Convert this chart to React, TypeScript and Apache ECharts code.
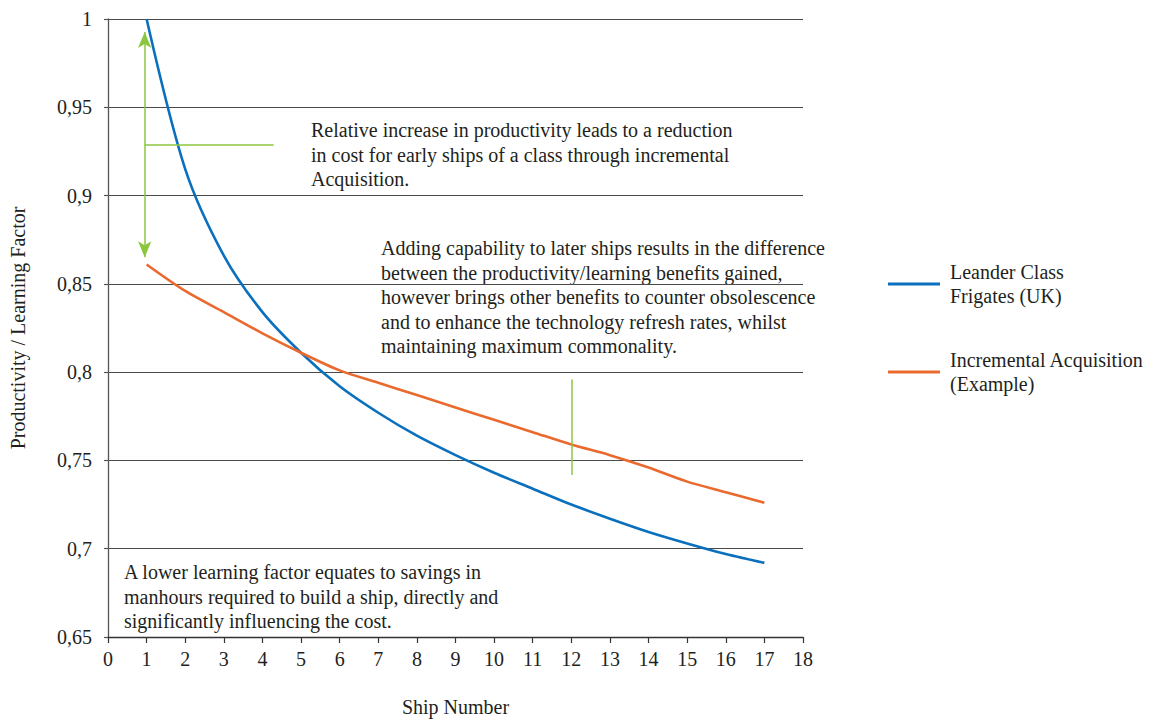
import React, { useEffect, useRef } from "react";
import * as echarts from "echarts";

const shipNumbers = [1, 2, 3, 4, 5, 6, 7, 8, 9, 10, 11, 12, 13, 14, 15, 16, 17];
const leanderValues = [1.0, 0.915, 0.866, 0.834, 0.811, 0.792, 0.777, 0.764, 0.753, 0.743, 0.734, 0.725, 0.717, 0.7095, 0.703, 0.697, 0.692];
const incrementalValues = [0.861, 0.846, 0.834, 0.822, 0.811, 0.801, 0.794, 0.787, 0.78, 0.773, 0.766, 0.759, 0.753, 0.746, 0.738, 0.732, 0.726];
const seriesNames = ["Leander Class\nFrigates (UK)", "Incremental Acquisition\n(Example)"];
const annotationTexts = [
  "Relative increase in productivity leads to a reduction\nin cost for early ships of a class through incremental\nAcquisition.",
  "Adding capability to later ships results in the difference\nbetween the productivity/learning benefits gained,\nhowever brings other benefits to counter obsolescence\nand to enhance the technology refresh rates, whilst\nmaintaining maximum commonality.",
  "A lower learning factor equates to savings in\nmanhours required to build a ship, directly and\nsignificantly influencing the cost.",
];

const FONT = "'Liberation Serif', 'Times New Roman', serif";
const BLUE = "#0a70bd";
const ORANGE = "#ea6a2e";
const GREEN = "#8cc63f";
const TEXT = "#231f20";
const FS = 20;

export default function App() {
  const ref = useRef<HTMLDivElement>(null);
  useEffect(() => {
    if (!ref.current) return;
    const chart = echarts.init(ref.current, null, { renderer: "svg" });
    const pair = (xs: number[], ys: number[]) => xs.map((x, i) => [x, ys[i]]);
    chart.setOption({
      animation: false,
      backgroundColor: "#ffffff",
      textStyle: { fontFamily: FONT },
      grid: { left: 107, right: 356, top: 19, bottom: 81, containLabel: false },
      legend: {
        orient: "vertical",
        left: 888,
        top: 260,
        padding: 0,
        itemWidth: 52,
        itemHeight: 3,
        itemGap: 40,
        icon: "rect",
        textStyle: { fontFamily: FONT, fontSize: FS, lineHeight: 24, color: TEXT, padding: [0, 0, 0, 5] },
        data: seriesNames,
      },
      xAxis: {
        type: "value",
        min: 0,
        max: 18,
        interval: 1,
        name: "Ship Number",
        nameLocation: "middle",
        nameGap: 60,
        nameTextStyle: { fontFamily: FONT, fontSize: FS, color: TEXT },
        axisLine: { lineStyle: { color: "#333", width: 1.3 } },
        axisTick: { show: true, length: 6, lineStyle: { color: "#333", width: 1.2 } },
        axisLabel: { fontFamily: FONT, fontSize: FS, color: TEXT, margin: 12 },
        splitLine: { show: false },
      },
      yAxis: {
        type: "value",
        min: 0.65,
        max: 1,
        interval: 0.05,
        name: "Productivity / Learning Factor",
        nameLocation: "middle",
        nameGap: 80,
        nameTextStyle: { fontFamily: FONT, fontSize: FS, color: TEXT },
        axisLine: { show: true, lineStyle: { color: "#555", width: 1.3 } },
        axisTick: { show: true, length: 4, lineStyle: { color: "#555", width: 1.2 } },
        axisLabel: {
          fontFamily: FONT,
          fontSize: FS,
          color: TEXT,
          margin: 16,
          formatter: (v: number) => String(parseFloat(v.toFixed(2))).replace(".", ","),
        },
        splitLine: { show: true, lineStyle: { color: "#4a4a4a", width: 1.2 } },
      },
      series: [
        {
          name: seriesNames[0],
          type: "line",
          data: pair(shipNumbers, leanderValues),
          smooth: 0.3,
          showSymbol: false,
          symbol: "none",
          lineStyle: { color: BLUE, width: 2.6 },
          itemStyle: { color: BLUE },
          z: 3,
        },
        {
          name: seriesNames[1],
          type: "line",
          data: pair(shipNumbers, incrementalValues),
          smooth: 0.3,
          showSymbol: false,
          symbol: "none",
          lineStyle: { color: ORANGE, width: 2.6 },
          itemStyle: { color: ORANGE },
          z: 3,
          markLine: {
            silent: true,
            animation: false,
            label: { show: false },
            lineStyle: { color: GREEN, width: 1.5, type: "solid" },
            data: [
              [
                { coord: [0.95, 0.9927], symbol: "arrow", symbolSize: [10, 16] },
                { coord: [0.95, 0.865], symbol: "arrow", symbolSize: [10, 16] },
              ],
              [
                { coord: [0.95, 0.9286], symbol: "none" },
                { coord: [4.29, 0.9286], symbol: "none" },
              ],
              [
                { coord: [12.02, 0.7958], symbol: "none" },
                { coord: [12.02, 0.7418], symbol: "none" },
              ],
            ],
          },
        },
      ],
      graphic: [
        {
          type: "text",
          left: 311,
          top: 118,
          style: { text: annotationTexts[0], font: `${FS}px ${FONT}`, lineHeight: 24.5, fill: TEXT },
        },
        {
          type: "text",
          left: 381,
          top: 236,
          style: { text: annotationTexts[1], font: `${FS}px ${FONT}`, lineHeight: 24.5, fill: TEXT },
        },
        {
          type: "text",
          left: 124,
          top: 560,
          style: { text: annotationTexts[2], font: `${FS}px ${FONT}`, lineHeight: 24.5, fill: TEXT },
        },
      ],
    });
    return () => chart.dispose();
  }, []);
  return (
    <div
      ref={ref}
      style={{ position: "fixed", left: 0, top: 0, width: 1159, height: 722, background: "#fff" }}
    />
  );
}
